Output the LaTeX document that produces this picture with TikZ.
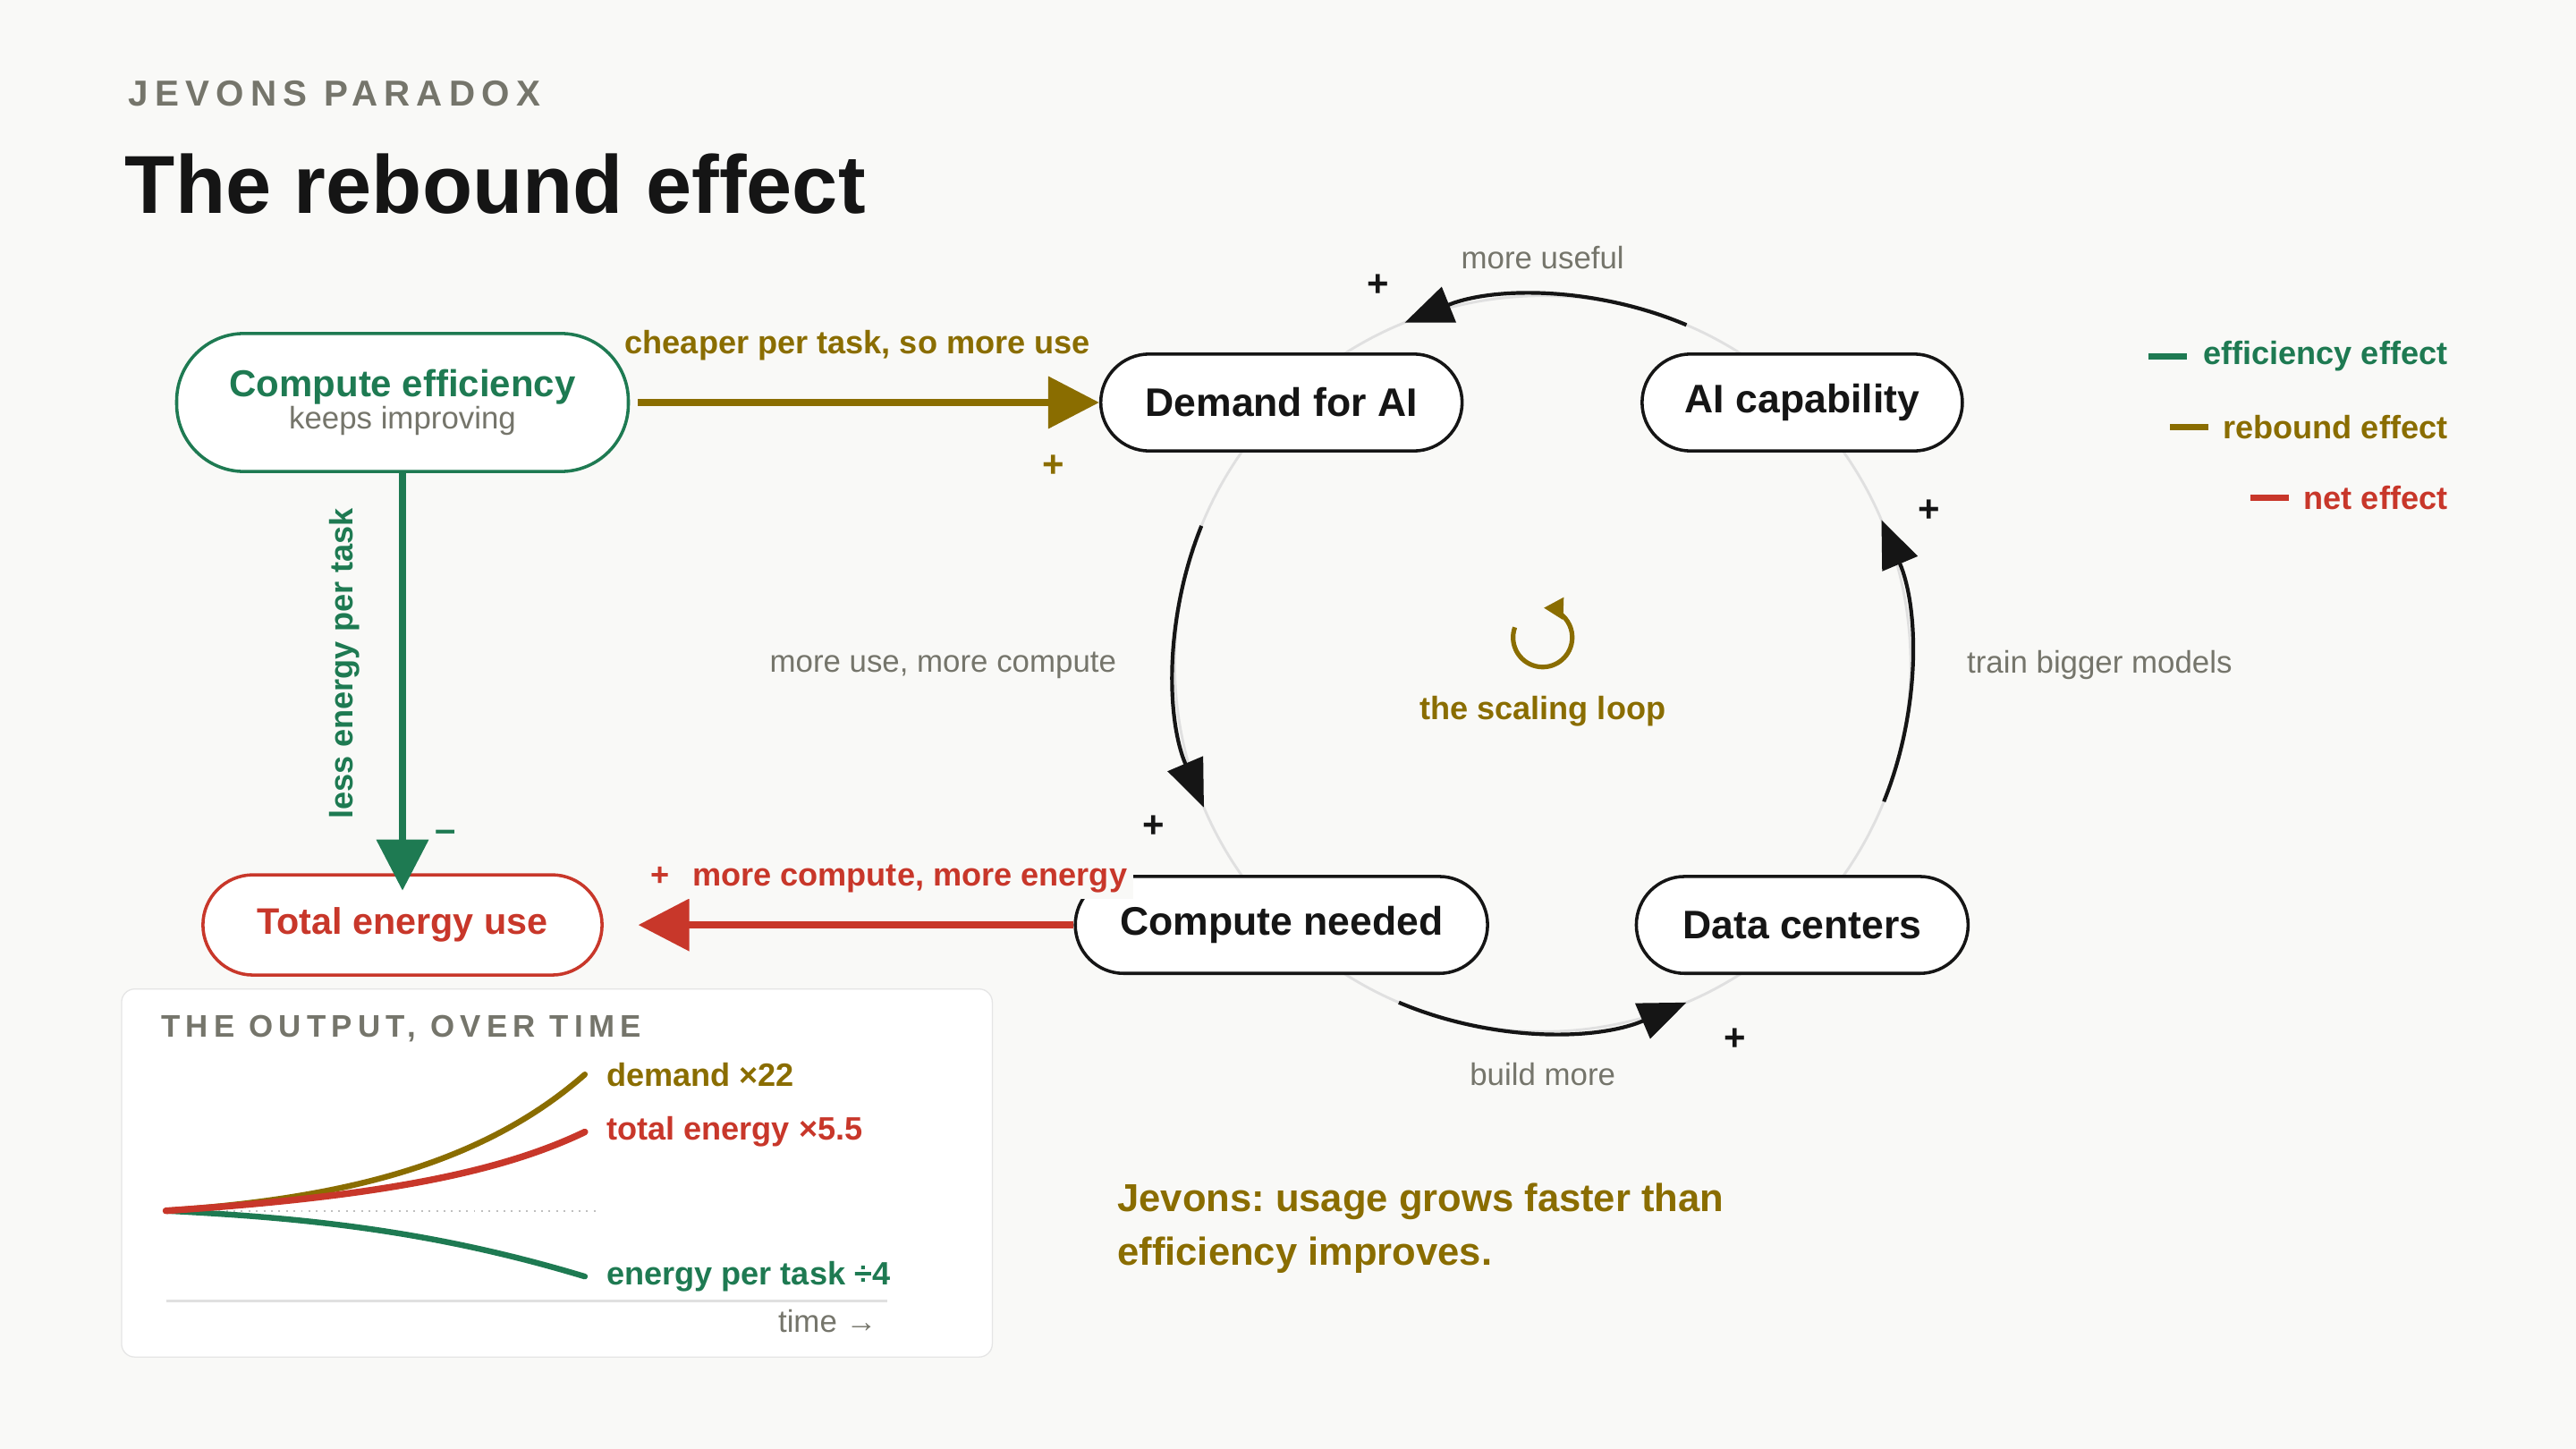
\documentclass[tikz,border=0pt]{standalone}
\usepackage{fontspec}
\setmainfont{Liberation Sans}
\newfontfamily\spaced[LetterSpace=18]{Liberation Sans}
\usetikzlibrary{arrows.meta,positioning,calc}
\definecolor{bgc}{HTML}{F9F9F7}
\definecolor{olive}{HTML}{8A6D00}
\definecolor{effgreen}{HTML}{1E7A52}
\definecolor{netred}{HTML}{C8372A}
\definecolor{muted}{HTML}{75756B}
\definecolor{ink}{HTML}{151515}
\def \bodyf {\fontsize{10.8}{13}\selectfont}
\def \boldf {\fontsize{11.2}{14}\selectfont\bfseries}
\def \boxf {\fontsize{13.8}{16}\selectfont\bfseries}
\frenchspacing

\begin{document}
\begin{tikzpicture}[x=0.02cm, y=-0.02cm, >=Triangle,
    pill/.style={draw=ink, line width=1.1pt, fill=white, rounded corners=0.59cm,
      minimum height=1.18cm, text=ink, font=\boxf, inner sep=0pt},
    gain/.style={font=\fontsize{13}{13}\selectfont\bfseries, text=ink},
    note/.style={font=\bodyf, text=muted},
    loop/.style={line width=1.3pt, draw=ink, -{Triangle[length=0.58cm,width=0.46cm]}},
    big/.style={line width=2.3pt, -{Triangle[length=0.62cm,width=0.62cm]}}]
    % Background and frame
    \useasboundingbox[fill=bgc] (0,0) rectangle (1568,882);

    % Heading
    \node[anchor=west, text=muted, font=\spaced\fontsize{12.5}{14}\selectfont\bfseries] (kicker) at (72,57) {JEVONS PARADOX};
    \node[anchor=west, text=ink, font=\fontsize{28.5}{34}\selectfont\bfseries] (title) at (70,112) {The rebound effect};

    % The scaling loop
    \coordinate (hub) at (939,404);
    \draw[draw=black!12, line width=0.9pt] (hub) circle (4.48cm);

    \node[pill, minimum width=4.4cm] (demand) at (780,245) {Demand for AI};
    \node[pill, minimum width=3.9cm] (capab) at (1097,245) {AI capability};
    \node[pill, minimum width=5.02cm] (compute) at (780,563) {Compute needed};
    \node[pill, minimum width=4.04cm] (centers) at (1097,563) {Data centers};

    % Loop arrows
    \draw[loop] ($(hub)+(-67:224)$) arc[start angle=-67, end angle=-112, radius=224];
    \draw[loop] ($(hub)+(-158:224)$) arc[start angle=-158, end angle=-203, radius=224];
    \draw[loop] ($(hub)+(-247:224)$) arc[start angle=-247, end angle=-293, radius=224];
    \draw[loop] ($(hub)+(-338:224)$) arc[start angle=-338, end angle=-383, radius=224];

    \node[gain] (p1) at (839,174) {+};
    \node[gain] (p2) at (1174,311) {+};
    \node[gain] (p3) at (702,503) {+};
    \node[gain] (p4) at (1056,633) {+};

    \node[note] (l1) at (939,157) {more useful};
    \node[note] (l2) at (1278,405) {train bigger models};
    \node[note] (l3) at (939,654) {build more};
    \node[note] (l4) at (574,405) {more use, more compute};

    \coordinate (icon) at (939,388);
    \draw[olive, line width=1.6pt, -{Triangle[length=0.24cm,width=0.26cm]}]
      ($(icon)+(-160:18)$) arc[start angle=-160, end angle=-448, radius=18];
    \node[text=olive, font=\boldf] (looptxt) at (939,433) {the scaling loop};

    % Efficiency side
    \node[draw=effgreen, line width=1.1pt, fill=white, rounded corners=0.82cm,
      minimum width=5.5cm, minimum height=1.68cm, align=center, inner sep=0pt]
      (eff) at (245,245) {{\color{effgreen}\fontsize{13}{15}\selectfont\bfseries Compute efficiency}\\[-1pt]
      {\color{muted}\bodyf keeps improving}};
    \node[draw=netred, line width=1.1pt, fill=white, rounded corners=0.61cm,
      minimum width=4.86cm, minimum height=1.22cm, text=netred, font=\boxf, inner sep=0pt]
      (total) at (245,563) {\fontsize{12.8}{15}\selectfont Total energy use};

    \draw[big, olive] (eff.east) ++(5,0) -- (demand.west);
    \node[text=olive, font=\boldf] (cheap) at (522,210) {cheaper per task, so more use};
    \node[text=olive, font=\fontsize{13}{13}\selectfont\bfseries] (pplus) at (641,284) {+};

    \draw[big, effgreen] (eff.south) -- ([yshift=-6]total.north);
    \node[text=effgreen, font=\boldf, rotate=90] (lesst) at (210,404) {less energy per task};
    \node[text=effgreen, font=\fontsize{13}{13}\selectfont\bfseries] (gminus) at (271,509) {--};

    \draw[big, netred] (compute.west) -- ([xshift=12]total.east);
    \node[fill=bgc, text=netred, font=\boldf, inner sep=2pt] (morec) at (541,535)
      {+\hspace{8pt}more compute, more energy};

    % Legend
    \foreach \y/\x/\c/\t in {217/1308/effgreen/efficiency effect,
                             260/1321/olive/rebound effect,
                             303/1370/netred/net effect} {
      \draw[\c, line width=2.3pt] (\x,\y) -- ++(23,0);
      \node[anchor=east, text=\c, font=\boldf] at (1496,\y) {\t};
    }

    % Output panel
    \draw[draw=black!10, fill=white, rounded corners=0.16cm] (74,602) rectangle (604,826);
    \node[anchor=west, text=muted, font=\spaced\fontsize{10.8}{13}\selectfont\bfseries] (otitle) at (92,626) {THE OUTPUT, OVER TIME};
    \coordinate (origin) at (101,737);
    \draw[black!25, dotted, line width=0.6pt] (origin) -- (365,737);
    \draw[black!12, line width=0.9pt] (101,792) -- (540,792);
    \node[anchor=east, note] (time) at (540,804) {time →};
    \draw[olive, line width=2pt, line cap=round] (origin) .. controls (200,730) and (290,712) .. (356,654);
    \draw[effgreen, line width=2pt, line cap=round] (origin) .. controls (180,741) and (260,748) .. (356,777);
    \draw[netred, line width=2.3pt, line cap=round] (origin) .. controls (220,729) and (300,716) .. (356,689);
    \node[anchor=west, text=olive, font=\boldf] (dlab) at (363,654) {demand ×22};
    \node[anchor=west, text=netred, font=\boldf] (tlab) at (363,689) {total energy ×5.5};
    \node[anchor=west, text=effgreen, font=\boldf] (elab) at (363,777) {energy per task ÷4};

    % Takeaway
    \node[anchor=north west, text=olive, align=left, font=\fontsize{13.5}{18.5}\selectfont\bfseries]
      (jev) at (674,714) {Jevons: usage grows faster than\\efficiency improves.};
\end{tikzpicture}
\end{document}
